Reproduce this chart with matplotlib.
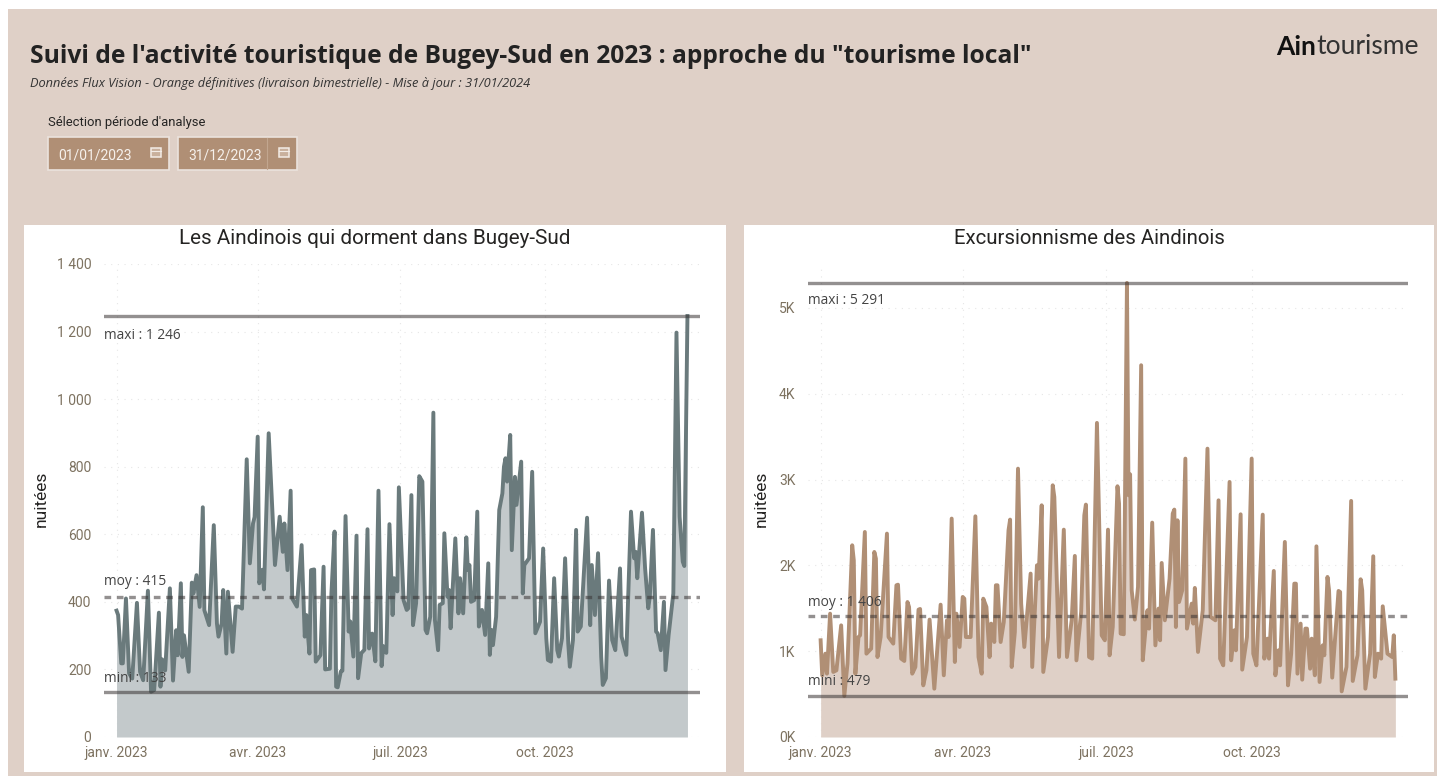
#!/usr/bin/env python3
# -*- coding: utf-8 -*-
import numpy as np
import matplotlib
matplotlib.use("Agg")
import matplotlib.pyplot as plt
from matplotlib.patches import Rectangle

#************************************
''' Data, read off the picture '''
#************************************
# days since 01/01/2023 of the visible peaks and troughs
nightsDays = [0,1,3,4,6,8,10,13,15,17,20,22,24,27,28,29,31,34,36,38,39,41,42,43,46,48,49,51,53,55,56,59,62,64,65,67,68,70,71,74,
    76,78,80,83,85,87,88,90,91,93,94,97,101,104,106,107,109,111,112,115,118,120,121,123,124,126,127,130,132,133,136,137,139,140,141,143,144,146,148,149,
    151,153,154,156,158,160,161,163,165,167,169,170,172,174,176,177,179,180,183,185,186,188,189,191,193,195,197,198,200,202,203,205,206,208,209,211,212,213,216,218,
    219,221,223,224,225,226,228,230,231,233,235,237,238,239,240,242,244,246,247,248,249,251,252,254,255,258,259,260,263,265,267,270,272,274,275,277,279,281,282,284,
    286,288,289,291,293,294,296,298,300,302,303,305,307,309,310,312,314,316,318,321,322,325,328,330,331,332,335,337,339,340,342,344,345,347,349,350,352,355,357,359,361,362,364]
nightsValues = [374,361,218,218,410,188,173,397,193,168,433,134,139,368,149,230,197,440,167,316,242,455,237,301,193,457,425,479,385,680,375,331,627,336,297,336,435,247,430,252,
    386,386,380,822,514,632,651,889,455,495,437,899,509,652,548,632,494,729,410,386,568,297,361,247,494,496,223,242,504,200,202,425,608,149,147,194,196,654,312,342,
    238,596,174,248,258,615,262,306,224,729,210,269,249,630,361,470,431,739,405,376,381,716,331,396,772,756,317,307,356,960,346,257,391,396,603,415,435,322,588,366,
    470,366,591,494,509,400,405,667,327,376,302,514,243,317,272,356,672,721,800,825,756,894,553,770,687,815,425,509,529,785,307,341,558,292,228,223,470,257,238,292,
    529,277,208,287,613,312,327,489,649,331,509,361,544,238,154,174,463,287,257,499,297,243,667,529,548,470,664,499,381,415,613,312,307,257,400,198,302,425,1197,652,519,506,1246]

excursionDays = [0,1,3,4,6,8,10,13,15,17,20,21,22,24,25,28,29,32,34,35,36,38,42,43,46,48,49,51,53,55,56,58,60,62,63,65,67,69,72,76,
    78,80,81,83,85,86,88,90,91,92,95,98,100,102,103,105,107,108,110,111,112,114,116,119,120,121,123,125,127,129,133,134,137,138,140,141,144,147,148,151,
    154,156,159,161,162,165,167,168,170,172,175,178,180,182,183,185,188,189,190,192,194,195,196,197,199,201,203,204,206,207,208,210,212,214,215,216,218,221,223,224,
    225,226,227,229,231,232,235,236,237,239,242,245,247,250,252,253,255,259,260,262,263,266,267,270,273,274,276,280,281,283,284,287,288,290,291,294,296,298,300,301,
    302,304,305,307,308,310,311,313,314,316,318,319,321,322,324,328,329,330,333,336,337,340,342,343,345,348,350,351,353,355,356,359,362,363,364]
excursionValues = [1127,719,971,738,1437,758,777,1301,479,855,2234,2059,738,1165,1185,2389,971,1030,2156,2079,932,1165,2370,1165,1088,1768,1775,913,886,1573,1515,738,816,1484,1492,602,777,1368,563,1542,
    719,1360,1165,2545,874,1437,1049,1632,1612,1165,1165,2572,932,738,1612,1515,932,1321,1107,1768,1768,1107,1340,2409,2533,816,1224,3127,1554,1049,1904,816,2001,1845,2700,758,1165,2933,2797,932,
    2416,932,1360,2110,893,1457,2584,2708,932,913,3660,1185,1127,2416,952,1282,2922,2720,1204,1197,5291,2817,3061,1709,1368,1748,4332,894,1301,1476,1263,2498,1068,1496,1127,2028,1360,1845,2603,2650,
    1282,2525,1573,1709,3244,1263,1554,1321,1737,991,1476,3360,1399,1360,2758,913,835,2972,894,1243,1010,2595,785,1165,3244,971,835,2591,913,1146,913,1935,719,1010,835,2273,602,971,1787,1787,
    738,1321,668,1263,1263,796,1146,719,2222,641,1068,952,1865,1709,692,1702,1690,532,816,2751,653,952,1838,1709,563,971,2106,699,971,913,1523,971,932,1185,680]

nightsStats = {"maxi": 1246, "moy": 415, "mini": 133}
excursionStats = {"maxi": 5291, "moy": 1406, "mini": 479}

nightsTicks = [0, 200, 400, 600, 800, 1000, 1200, 1400]
nightsTickLabels = ["0", "200", "400", "600", "800", "1 000", "1 200", "1 400"]
excursionTicks = [0, 1000, 2000, 3000, 4000, 5000]
excursionTickLabels = ["0K", "1K", "2K", "3K", "4K", "5K"]

monthTicks = ["2023-01-01", "2023-04-01", "2023-07-01", "2023-10-01"]
monthLabels = ["janv. 2023", "avr. 2023", "juil. 2023", "oct. 2023"]

#************************************
''' Figure and page decoration '''
#************************************
W, H = 1437, 776
BG = "#DFD0C7"
BROWN = "#B08F75"
SLATE = "#6A7A7C"
plt.rcParams['font.family'] = ['Roboto', 'DejaVu Sans']

fig = plt.figure(figsize=(W/100, H/100), dpi=100, facecolor="white")
page = fig.add_axes([0, 0, 1, 1])
page.set_xlim(0, W)
page.set_ylim(H, 0)
page.axis("off")

page.add_patch(Rectangle((8, 9), W-8, H-9, fc=BG, ec="none"))
page.add_patch(Rectangle((24, 225), 702, 547, fc="white", ec="none"))
page.add_patch(Rectangle((744, 225), 690, 547, fc="white", ec="none"))

page.text(30, 56.5, "Suivi de l'activité touristique de Bugey-Sud en 2023 : approche du \"tourisme local\"",
          fontsize=17.7, fontweight="bold", color="#222222", family="Open Sans", va="center")
page.text(30, 83.5, "Données Flux Vision - Orange définitives (livraison bimestrielle) - Mise à jour : 31/01/2024",
          fontsize=9.2, style="italic", color="#333333", family="Open Sans", va="center")
page.text(48, 122.5, "Sélection période d'analyse", fontsize=9.4, color="#252423", va="center")

# logo
page.text(1276, 47, "Ain", fontsize=19, fontweight="bold", color="#111111", family="Lato", va="center")
page.text(1316, 47, "tourisme", fontsize=19, color="#333333", family="Lato", va="center")

# date slicers
for x0, w, label in [(48, 121, "01/01/2023"), (178, 119, "31/12/2023")]:
    page.add_patch(Rectangle((x0, 137), w, 33, fc=BROWN, ec="#EBE3DD", lw=1.2))
    page.text(x0+10, 155, label, fontsize=10, color="#F6F1EC", va="center")
    page.add_patch(Rectangle((x0+w-18, 148), 10, 9, fc="#C9B09C", ec="#F3ECE6", lw=1.1))
    page.plot([x0+w-18, x0+w-8], [151, 151], color="#F3ECE6", lw=0.8)
page.plot([267, 267], [138, 169], color="#C2A68F", lw=0.8)

#************************************
''' Plot one panel '''
#************************************
def plotPanel(box, days, values, stats, yMax, ticks, tickLabels, lineColor, fillColor, title, titleX, titleSize, yLabelX, labelY):
    left, top, right, bottom = box
    ax = fig.add_axes([left/W, 1-bottom/H, (right-left)/W, (bottom-top)/H])
    ax.patch.set_alpha(0)
    dates = np.datetime64("2023-01-01") + np.array(days).astype("timedelta64[D]")
    ax.fill_between(dates, 0, values, color=fillColor, lw=0, zorder=2)
    ax.plot(dates, values, color=lineColor, lw=2.8, solid_joinstyle="round", zorder=3)

    for name, ls in [("maxi", "-"), ("moy", (0, (2.0, 1.7))), ("mini", "-")]:
        ax.axhline(stats[name], color="#3A3535", alpha=0.55, lw=2.4, ls=ls, zorder=4)
    for name, pad in labelY.items():
        val = f"{stats[name]:,}".replace(",", " ")
        ax.annotate(f"{name} : {val}", (0, stats[name]), xycoords=("axes fraction", "data"),
                    xytext=(0, pad), textcoords="offset pixels", fontsize=9.9, color="#444444",
                    va="center", zorder=5, family="Open Sans")

    ax.set_ylim(0, yMax)
    ax.set_xlim(dates[0] - np.timedelta64(8, "D"), dates[-1] + np.timedelta64(8, "D"))
    ax.set_yticks(ticks)
    ax.set_yticklabels(tickLabels)
    ax.set_xticks(np.array(monthTicks, dtype="datetime64[D]"))
    ax.set_xticklabels(monthLabels)
    ax.tick_params(length=0, labelsize=10, labelcolor="#7D7260", pad=9)
    ax.tick_params(axis="x", pad=6.5)
    ax.grid(True, color="#E6E6E6", ls=(0, (1, 5)), lw=0.8, zorder=1)
    ax.set_axisbelow(True)
    for s in ax.spines.values():
        s.set_visible(False)

    page.text(titleX, 238.5, title, fontsize=titleSize, color="#252423", ha="center", va="center")
    page.text(yLabelX, 499, "nuitées", fontsize=12.5, color="#252423", rotation=90, ha="center", va="center")
    return ax

#************************************
''' Main '''
#************************************
plotPanel((104, 264, 700, 737), nightsDays, nightsValues, nightsStats, 1400,
          nightsTicks, nightsTickLabels, SLATE, "#C3C9CB",
          "Les Aindinois qui dorment dans Bugey-Sud", 375, 14.9, 41,
          {"maxi": -19, "moy": 15, "mini": 14})
plotPanel((808, 265, 1408, 737), excursionDays, excursionValues, excursionStats, 5500,
          excursionTicks, excursionTickLabels, BROWN, BG,
          "Excursionnisme des Aindinois", 1089, 14.7, 761,
          {"maxi": -18, "moy": 14, "mini": 14})

fig.savefig("out.png", dpi=100, facecolor="white")
plt.close()
